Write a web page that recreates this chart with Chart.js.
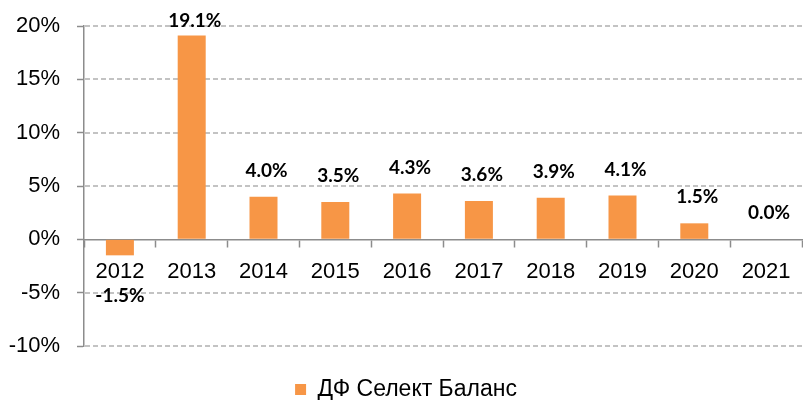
<!DOCTYPE html>
<html>
<head>
<meta charset="utf-8">
<script src="https://cdn.jsdelivr.net/npm/chart.js@4"></script>
<style>
  html, body { margin: 0; padding: 0; background: #fff; }
  #wrap { width: 803px; height: 400px; }
</style>
</head>
<body>
<div id="wrap"><canvas id="returnsChart"></canvas></div>
<script>
// yearly returns, %
const years = ["2012", "2013", "2014", "2015", "2016", "2017", "2018", "2019", "2020", "2021"];
const returns = [-1.5, 19.1, 4.0, 3.5, 4.3, 3.6, 3.9, 4.1, 1.5, 0.0];
const seriesName = "ДФ Селект Баланс";
const yMin = -10, yMax = 20, yStep = 5;

const barColor = "#F79646";
const gridColor = "#b0b0b0";
const axisColor = "#8c8c8c";
const legendShift = 24; // legend sits lower than chart.js would put it

// dashed horizontal gridlines, drawn at the y scale's own ticks
const dashedGrid = {
  id: "dashedGrid",
  beforeDatasetsDraw(chart) {
    const { ctx, chartArea, scales } = chart;
    const yScale = scales.y;
    ctx.save();
    ctx.strokeStyle = gridColor;
    ctx.lineWidth = 1.5;
    ctx.setLineDash([5, 3]);
    yScale.ticks.forEach(t => {
      if (t.value === 0) return;
      const y = Math.round(yScale.getPixelForValue(t.value));
      ctx.beginPath();
      ctx.moveTo(chartArea.left + 1, y);
      ctx.lineTo(chartArea.right, y);
      ctx.stroke();
    });
    ctx.restore();
  }
};

// bold value labels above / below the bars
const valueLabels = {
  id: "valueLabels",
  afterDatasetsDraw(chart) {
    const { ctx, chartArea } = chart;
    const meta = chart.getDatasetMeta(0);
    ctx.save();
    ctx.font = "bold 19px Lato, 'DejaVu Sans', sans-serif";
    ctx.fillStyle = "#000";
    ctx.textAlign = "center";
    ctx.textBaseline = "middle";
    meta.data.forEach((bar, i) => {
      const v = returns[i];
      let y = v < 0 ? bar.y + 41 : bar.y - 26;
      if (y < chartArea.top - 5) y = chartArea.top - 5;
      ctx.fillText(v.toFixed(1) + "%", v < 0 ? bar.x : bar.x + 3, y);
    });
    ctx.restore();
  }
};

const moveLegend = {
  id: "moveLegend",
  afterLayout(chart) {
    const lg = chart.legend;
    if (lg) {
      lg.top += legendShift;
      lg.bottom += legendShift;
      lg.left += 5;
      lg.right += 5;
    }
  }
};

const tickFont = { family: "'Liberation Sans', Arial, sans-serif", size: 22 };

new Chart(document.getElementById("returnsChart"), {
  type: "bar",
  data: {
    labels: years,
    datasets: [{
      label: seriesName,
      data: returns,
      backgroundColor: barColor,
      borderWidth: 0,
      categoryPercentage: 1,
      barPercentage: 0.39
    }]
  },
  options: {
    responsive: true,
    maintainAspectRatio: false,
    animation: false,
    layout: { padding: { top: 26, right: 1, left: 0, bottom: 13 } },
    scales: {
      x: {
        position: { y: 0 },
        grid: {
          drawOnChartArea: false,
          drawTicks: true,
          tickLength: 7,
          tickColor: axisColor,
          tickWidth: 1.5,
          offset: true
        },
        border: { color: axisColor, width: 1.5 },
        ticks: {
          color: "#000",
          padding: 12,
          font: tickFont
        }
      },
      y: {
        min: yMin,
        max: yMax,
        afterFit(scale) {
          scale.width = 84;
          scale.paddingTop = 0;
        },
        grid: {
          drawOnChartArea: false,
          drawTicks: true,
          tickLength: 7,
          tickColor: axisColor,
          tickWidth: 1.5
        },
        border: { color: axisColor, width: 1.5 },
        ticks: {
          stepSize: yStep,
          color: "#000",
          padding: 17,
          font: tickFont,
          callback: v => v + "%"
        }
      }
    },
    plugins: {
      legend: {
        position: "bottom",
        labels: {
          color: "#000",
          boxWidth: 11,
          boxHeight: 11,
          padding: 8,
          font: { family: "'Liberation Sans', Arial, sans-serif", size: 23 }
        }
      },
      tooltip: { enabled: false }
    }
  },
  plugins: [dashedGrid, valueLabels, moveLegend]
});
</script>
</body>
</html>
